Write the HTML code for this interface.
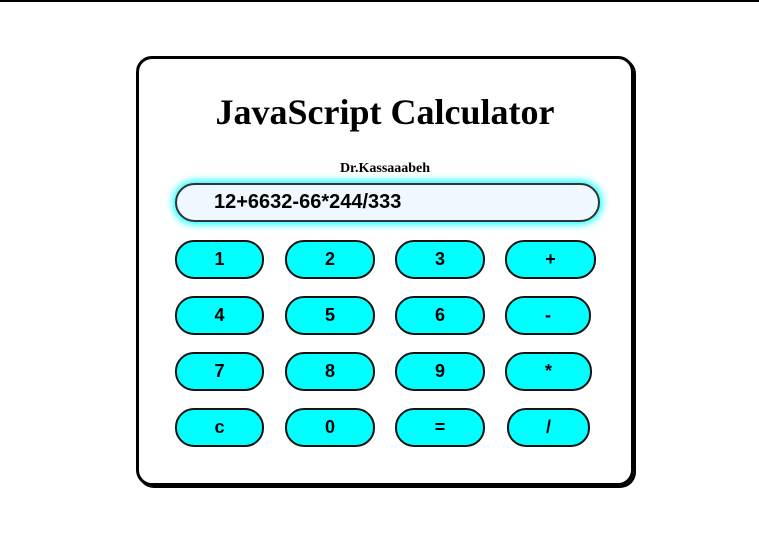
<!DOCTYPE html>
<html><head><style>
body{margin:0;width:759px;height:559px;background:#fff;position:relative;overflow:hidden;font-family:"Liberation Sans",sans-serif}
.top{position:absolute;left:0;top:0;width:759px;height:2px;background:#000}
.box{position:absolute;left:136px;top:56px;width:492px;height:424px;border:3px solid #000;border-radius:16px;box-shadow:2px 2px 0 #000}
h1{position:absolute;left:136px;width:498px;top:91px;margin:0;text-align:center;font:bold 36px "Liberation Serif",serif;color:#000}
.sub{position:absolute;left:136px;width:498px;top:161px;text-align:center;font:bold 14px "Liberation Serif",serif}
.disp{position:absolute;left:175px;top:183px;height:35px;border:2px solid #333;border-radius:20px;background:#f0f8ff;box-shadow:0 0 8px 2px #00ffff;font:bold 20px "Liberation Sans",sans-serif;line-height:35px;padding-left:37px;width:384px}
.b{position:absolute;height:35px;border:2px solid #111;border-radius:19px;background:#00ffff;font:bold 18px "Liberation Sans",sans-serif;text-align:center;line-height:35px}
</style></head><body>
<div class="top"></div>
<div class="box"></div>
<h1>JavaScript Calculator</h1>
<div class="sub">Dr.Kassaaabeh</div>
<div class="disp">12+6632-66*244/333</div>
<div class="b" style="left:175px;top:240px;width:85px">1</div>
<div class="b" style="left:285px;top:240px;width:86px">2</div>
<div class="b" style="left:395px;top:240px;width:86px">3</div>
<div class="b" style="left:505px;top:240px;width:87px">+</div>
<div class="b" style="left:175px;top:296px;width:85px">4</div>
<div class="b" style="left:285px;top:296px;width:86px">5</div>
<div class="b" style="left:395px;top:296px;width:86px">6</div>
<div class="b" style="left:505px;top:296px;width:82px">-</div>
<div class="b" style="left:175px;top:352px;width:85px">7</div>
<div class="b" style="left:285px;top:352px;width:86px">8</div>
<div class="b" style="left:395px;top:352px;width:86px">9</div>
<div class="b" style="left:505px;top:352px;width:83px">*</div>
<div class="b" style="left:175px;top:408px;width:85px">c</div>
<div class="b" style="left:285px;top:408px;width:86px">0</div>
<div class="b" style="left:395px;top:408px;width:86px">=</div>
<div class="b" style="left:507px;top:408px;width:79px">/</div>
</body></html>
